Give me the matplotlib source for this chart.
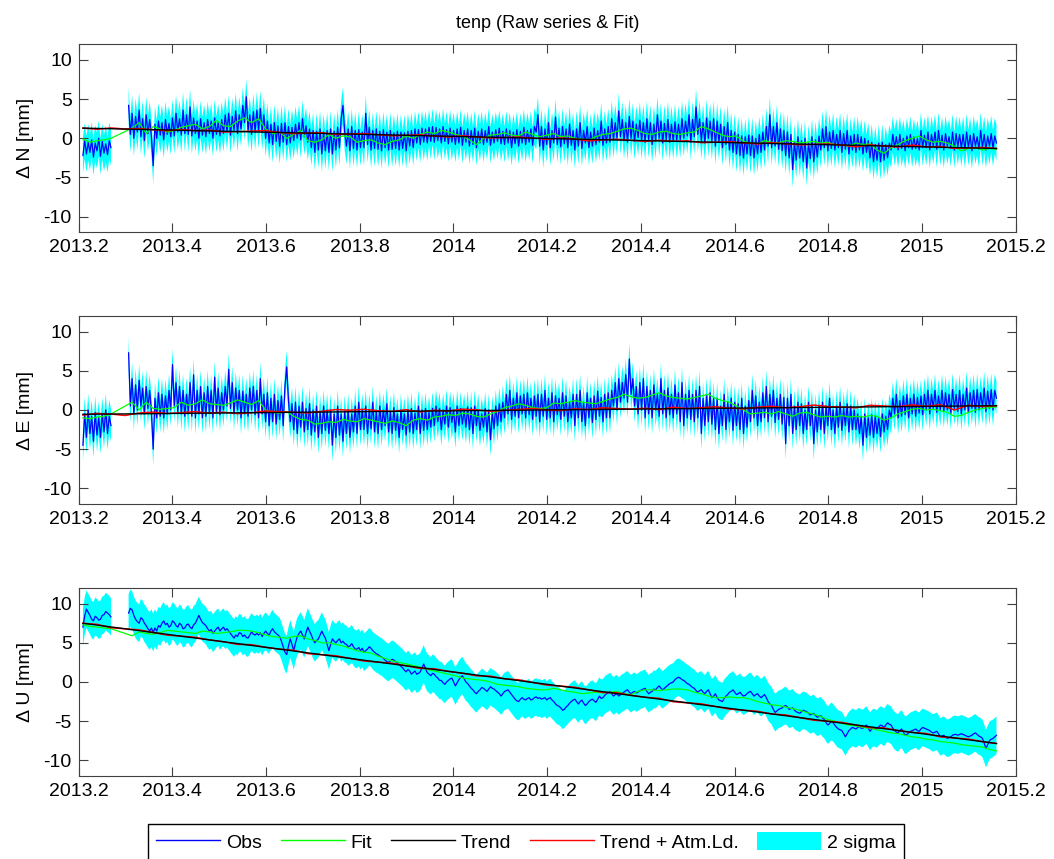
import numpy as np
import matplotlib
matplotlib.use("Agg")
import matplotlib.pyplot as plt
from matplotlib.lines import Line2D
from matplotlib.patches import Patch
from matplotlib.ticker import FormatStrFormatter

plt.rcParams['font.family'] = ['Liberation Sans', 'DejaVu Sans']
plt.rcParams['axes.unicode_minus'] = False

# ---------------- data ----------------
T0 = 2013.209          # first epoch
T_END = 2015.159       # last epoch
OBS_STEP = 0.00375     # years between observation samples
FIT_STEP = 0.015       # years between fit samples
ATM_STEP = 0.03        # years between atm-loading samples

title = "tenp (Raw series & Fit)"
ylabels = ["\u0394 N [mm]", "\u0394 E [mm]", "\u0394 U [mm]"]
xticks = [2013.2, 2013.4, 2013.6, 2013.8, 2014.0, 2014.2, 2014.4, 2014.6, 2014.8, 2015.0, 2015.2]
yticks = [-10, -5, 0, 5, 10]
legend_labels = ["Obs", "Fit", "Trend", "Trend + Atm.Ld.", "2 sigma"]

obs_N = [
    -2.2, -0.3, -2.0, -0.5, -1.8, -0.2, -2.4, -0.6, -1.6, 0.0, -2.3, -0.4, -1.9, -0.7, -2.1, -0.3, -1.2, None, None, None,
    None, None, None, None, None, None, 4.2, 0.5, 3.2, 0.0, 2.8, 0.8, 3.6, 0.2, 2.5, -0.3, 3.0, 0.6, 2.4, 0.2,
    -3.5, 1.8, 0.0, 2.2, 0.4, 2.0, -0.2, 2.4, 0.5, 1.9, 0.2, 2.6, 0.3, 3.2, 0.8, 2.5, 0.4, 3.6, 0.6, 3.0,
    0.5, 4.0, 0.3, 2.6, 0.6, 2.2, 0.0, 2.5, 0.4, 2.0, 0.2, 2.4, 0.6, 2.2, 0.0, 2.6, 0.5, 2.1, 0.3, 2.4,
    0.6, 3.0, 0.8, 3.2, 0.4, 2.8, 1.0, 3.5, 0.6, 3.0, 1.2, 4.2, 2.0, 5.3, 1.0, 3.0, 0.5, 3.4, 0.8, 3.6,
    1.0, 3.8, 0.8, 3.0, 0.0, 2.2, -0.6, 1.8, -0.8, 2.0, -0.4, 1.6, -1.0, 1.9, -0.5, 2.0, -0.8, 1.5, -0.6, 1.4,
    -0.3, 1.8, 0.0, 2.0, -0.2, 2.5, 0.2, 1.6, -0.5, 1.2, -1.2, 1.0, -1.8, 0.9, -1.5, 1.2, -2.0, 0.8, -1.6, 1.0,
    -1.8, 1.2, -2.0, 0.9, -1.5, 1.4, -1.2, 2.5, 4.2, 0.8, -1.0, 1.2, -1.6, 1.5, -1.3, 1.0, -1.5, 1.1, -1.2, 0.8,
    -1.2, 3.2, -0.8, 1.4, -1.5, 1.0, -1.3, 1.2, -1.4, 0.9, -1.6, 1.1, -1.2, 0.8, -1.5, 1.0, -1.4, 0.7, -1.3, 0.9,
    -1.5, 0.8, -1.3, 0.7, -1.6, 0.9, -1.0, 1.0, -1.2, 1.2, -0.6, 1.1, -0.8, 1.3, -0.5, 1.2, -0.6, 1.4, -0.4, 1.5,
    -0.5, 1.4, -0.3, 1.2, -0.6, 1.5, -0.4, 1.1, -0.7, 1.3, -0.5, 1.0, -0.8, 1.2, -0.6, 1.4, -0.9, 1.0, -0.5, 1.2,
    -1.0, 1.0, -0.8, 1.3, -1.2, 0.9, -0.6, 1.2, -0.8, 1.0, -0.5, 1.5, -0.9, 0.8, -0.6, 1.1, -0.4, 1.3, -0.7, 0.9,
    -0.8, 1.2, -0.6, 1.0, -1.2, 0.8, -0.7, 1.1, -1.0, 0.9, -0.6, 1.4, -0.8, 1.0, -0.5, 1.2, -0.9, 1.5, 0.8, 3.0,
    -1.0, 1.5, -1.5, 1.2, -0.8, 2.0, -1.2, 1.0, -0.6, 2.7, -0.8, 1.3, -1.1, 1.5, -0.7, 1.2, -1.2, 1.8, -0.9, 1.0,
    -1.5, 1.2, -1.0, 2.0, -1.3, 1.0, -0.6, 1.5, -1.2, 0.8, -1.0, 1.3, -0.8, 1.0, -0.5, 2.2, -0.9, 1.2, -0.6, 1.5,
    -0.5, 2.5, -0.2, 2.0, 0.0, 3.5, 0.2, 2.4, -0.3, 2.0, -0.5, 2.8, 0.0, 2.2, -0.4, 1.8, 0.1, 2.3, -0.3, 2.0,
    -0.5, 2.5, -0.2, 2.0, -0.8, 1.8, -0.3, 3.0, 0.0, 2.2, -0.6, 1.9, -0.2, 2.4, -0.5, 1.8, -0.4, 2.1, -0.3, 1.8,
    -0.2, 2.5, 0.0, 2.2, 0.3, 3.0, -0.5, 2.4, 0.2, 4.0, 0.5, 2.5, -0.3, 2.0, -0.6, 2.6, 0.0, 2.2, -0.4, 2.5,
    -1.0, 2.2, -0.5, 1.8, -1.2, 1.5, -0.8, 2.0, -1.5, 1.0, -1.8, 0.8, -2.0, 0.5, -2.2, 0.3, -2.5, 0.2, -2.0, 0.4,
    -2.2, 0.3, -2.5, 0.0, -2.0, 0.5, -1.8, 0.8, -1.5, 1.5, -1.0, 3.0, -1.2, 1.5, -1.0, 2.0, -1.4, 1.2, -1.6, 1.0,
    -2.2, 0.8, -2.5, 0.5, -4.0, -0.5, -2.8, 0.2, -2.5, -0.3, -3.0, 0.0, -3.8, -0.6, -2.6, 0.2, -3.0, -0.2, -2.4, 0.3,
    -1.5, 1.2, -1.2, 1.5, -1.6, 0.8, -1.3, 1.0, -1.5, 0.5, -1.2, 1.0, -1.8, 0.6, -1.4, 1.0, -2.0, 0.3, -1.5, 0.5,
    -1.8, 0.5, -1.5, 0.2, -2.0, 0.0, -1.8, -0.3, -2.5, -0.5, -3.0, -0.8, -2.8, -0.6, -3.0, -0.5, -2.8, -0.8, -2.5, -0.6,
    -1.5, 0.5, -1.2, 0.2, -1.5, 0.5, -1.3, 0.0, -1.6, 0.3, -1.2, 0.5, -1.4, 0.2, -1.3, 0.0, -1.5, 1.0, -1.2, 0.4,
    -1.2, 0.8, -1.5, 0.5, -1.0, 0.8, -1.4, 1.0, -1.2, 0.4, -1.5, 0.6, -1.0, 0.2, -1.3, 0.8, -1.5, 0.6, -1.1, 0.5,
    -1.3, 0.5, -1.5, 0.8, -1.2, 0.4, -1.6, 0.6, -1.0, 0.2, -1.4, 1.0, -1.2, 0.5, -1.5, 0.3, -1.0, 0.6, -1.3, 0.3,
    -0.6]

obs_E = [
    -4.5, -0.5, -3.5, 0.0, -3.0, -0.8, -4.0, -0.3, -3.2, -1.0, -3.5, -0.5, -2.8, 0.0, -3.0, -0.8, -2.0, None, None, None,
    None, None, None, None, None, None, 7.3, 0.5, 4.0, -0.5, 3.2, 0.0, 3.8, 0.5, 2.8, -0.5, 3.0, 0.2, 2.5, -0.2,
    -5.0, 1.5, -1.0, 2.2, -0.8, 2.0, -1.0, 1.8, -0.5, 2.5, 0.0, 5.8, 0.5, 3.5, -0.2, 3.0, -0.5, 2.5, -0.8, 2.0,
    -0.5, 3.5, -0.8, 4.5, -1.0, 2.5, -0.5, 3.0, -1.0, 2.2, -0.8, 3.0, -0.4, 2.5, -1.0, 4.2, -0.3, 2.8, -0.6, 2.2,
    0.0, 3.0, 0.5, 5.2, 0.2, 3.5, -0.5, 2.8, 0.0, 2.5, -1.0, 2.4, -0.5, 2.0, -0.8, 2.8, 0.0, 3.0, -0.6, 2.5,
    -1.0, 4.0, -0.5, 2.0, -1.5, 2.2, -2.0, 1.5, -1.5, 2.0, -1.8, 1.2, -1.2, 1.8, -2.0, 3.0, 5.5, 1.2, -1.5, 0.8,
    -2.5, 1.0, -3.0, 0.5, -2.2, 1.0, -2.8, 0.2, -2.5, 0.8, -3.2, 0.0, -2.8, 0.5, -3.5, -0.2, -3.0, 0.5, -2.6, 0.0,
    -3.0, 0.0, -4.5, -0.5, -3.5, 0.5, -3.2, -0.5, -4.0, -0.2, -3.0, 0.0, -3.5, -0.5, -2.8, 0.5, -3.0, 1.0, -2.5, 0.0,
    -2.5, 0.5, -3.0, 0.0, -2.4, 1.0, -2.8, -0.2, -3.0, 0.5, -2.5, 0.0, -2.0, 0.8, -2.8, -0.2, -3.0, 0.3, -2.6, -0.5,
    -3.5, 0.0, -2.5, -0.5, -3.2, 0.0, -2.8, 0.2, -3.0, -0.4, -2.5, 0.5, -3.0, 0.0, -2.6, 0.2, -2.5, -0.3, -2.2, 0.2,
    -2.0, 0.5, -1.5, 0.2, -2.5, 0.0, -1.8, 0.5, -2.2, 0.3, -1.6, 0.0, -2.8, 0.5, -2.0, 0.2, -1.8, 0.0, -2.2, 0.4,
    -2.5, 0.3, -3.0, 0.5, -2.0, 0.0, -2.6, -0.5, -2.2, 0.2, -2.8, 0.0, -3.8, -0.3, -2.4, 0.5, -2.0, 0.8, -1.5, 1.0,
    -1.0, 2.0, -0.5, 2.5, -1.2, 1.5, -0.8, 2.2, -1.0, 1.8, -0.5, 2.0, -1.0, 2.2, -0.6, 1.5, -1.2, 1.8, -0.8, 2.0,
    -1.5, 2.0, -0.8, 2.5, -1.2, 1.5, -1.0, 2.2, -1.5, 1.8, -0.6, 1.5, -1.2, 2.2, -0.8, 1.8, -1.5, 1.0, -1.0, 2.0,
    -2.0, 2.0, -1.0, 2.5, -1.5, 1.0, -2.0, 2.2, -1.0, 1.5, -1.6, 1.8, -1.2, 2.4, -0.8, 1.6, -1.5, 2.0, -1.0, 2.2,
    -1.0, 2.5, 0.5, 3.5, 0.0, 4.0, 1.0, 3.5, 1.5, 4.5, 1.0, 6.5, 2.0, 4.0, 0.5, 3.0, -0.5, 3.5, 0.0, 4.0,
    -1.0, 3.0, -0.5, 2.5, -1.0, 3.2, 0.0, 2.0, -0.8, 4.0, -0.5, 2.5, -1.0, 2.8, -0.6, 2.0, -1.0, 3.2, -0.5, 2.2,
    -1.5, 3.5, -2.0, 2.0, -1.0, 2.5, -1.2, 2.0, -1.5, 2.5, -1.0, 3.0, -3.0, 1.5, -2.0, 2.0, -1.5, 2.2, -1.8, 1.5,
    -2.5, 1.5, -3.0, 0.5, -2.0, 2.0, -2.5, 1.0, -1.5, 1.5, -2.6, 1.0, -2.0, 0.8, -2.5, 1.5, -3.0, 0.5, -2.2, 1.2,
    -1.5, 2.5, -1.0, 1.8, -2.0, 1.0, -1.5, 2.2, -1.0, 3.0, -1.5, 2.0, -0.8, 2.5, -1.6, 1.5, -1.2, 2.0, -1.8, 1.6,
    -4.3, 1.5, -2.0, 2.0, -3.0, 0.5, -2.5, 1.0, -2.0, 0.8, -3.0, 0.0, -2.5, 1.0, -2.0, 0.5, -4.3, 0.0, -2.8, 0.5,
    -2.5, 1.0, -3.0, 0.5, -2.0, 1.5, -2.5, 0.0, -3.0, 0.5, -2.2, 1.0, -2.6, 0.2, -2.0, 0.8, -2.8, 0.5, -2.5, 0.0,
    -2.5, -0.5, -3.0, -0.8, -4.5, -0.5, -3.5, -1.0, -3.2, -0.6, -3.5, -0.8, -3.0, -1.0, -3.4, -0.5, -2.8, -0.8, -2.5, 0.0,
    -1.0, 1.5, -0.5, 2.0, -1.0, 1.2, -0.8, 1.8, -0.6, 2.0, -1.0, 1.5, -0.5, 2.0, -0.8, 1.6, -0.4, 1.8, -0.6, 2.0,
    0.0, 2.5, -0.5, 2.0, 0.2, 2.5, -0.3, 1.8, 0.0, 2.5, -0.2, 2.2, 0.0, 2.0, -0.4, 2.6, 0.2, 2.0, -0.2, 2.5,
    -0.5, 2.0, 0.0, 2.8, -0.3, 2.2, 0.2, 2.5, -0.3, 2.6, 0.0, 2.2, 0.3, 2.8, -0.2, 2.4, 0.2, 2.6, 0.0, 2.5,
    1.5]

obs_U = [
    7.0, 8.4, 9.3, 8.9, 8.5, 8.0, 7.8, 8.4, 8.2, 7.9, 8.0, 8.5, 8.6, 9.0, 8.8, 8.6, 8.3, None, None, None,
    None, None, None, None, None, None, 8.8, 9.4, 9.2, 8.5, 8.0, 7.7, 7.5, 8.2, 8.0, 7.5, 7.2, 6.8, 6.5, 6.9,
    6.3, 6.9, 6.5, 7.2, 7.0, 7.5, 7.8, 7.3, 7.5, 7.0, 7.2, 7.8, 7.6, 7.2, 7.0, 7.5, 7.3, 6.8, 6.9, 7.3,
    7.4, 7.0, 6.8, 7.3, 7.5, 8.0, 8.5, 8.0, 7.6, 7.4, 7.2, 6.8, 6.5, 6.7, 6.2, 6.5, 6.8, 7.0, 6.5, 6.8,
    7.0, 6.6, 6.8, 6.5, 6.2, 5.9, 5.6, 6.0, 5.8, 6.3, 6.2, 5.8, 6.0, 5.7, 5.6, 6.0, 6.4, 6.1, 6.0, 6.2,
    6.0, 6.3, 5.8, 6.2, 6.5, 6.2, 6.0, 6.5, 6.8, 6.4, 6.2, 6.0, 5.8, 5.2, 4.5, 3.8, 3.5, 4.6, 5.5, 4.8,
    4.0, 5.0, 5.8, 6.2, 6.5, 6.0, 5.5, 6.3, 7.0, 6.5, 6.0, 5.4, 5.0, 5.3, 5.5, 6.0, 6.5, 6.0, 5.6, 4.8,
    4.0, 4.8, 5.5, 5.2, 5.0, 5.3, 5.5, 5.0, 5.2, 4.9, 4.8, 4.5, 4.6, 4.9, 4.5, 4.2, 4.2, 4.4, 4.0, 4.3,
    3.8, 4.0, 4.2, 4.5, 4.3, 4.0, 3.8, 3.6, 3.5, 3.3, 3.2, 3.0, 2.8, 2.6, 2.5, 2.7, 2.9, 2.8, 2.6, 2.4,
    2.2, 2.0, 1.8, 1.5, 1.3, 1.6, 1.4, 1.0, 1.2, 1.4, 1.0, 1.1, 1.3, 1.8, 2.3, 1.7, 1.2, 1.0, 0.8, 1.1,
    1.0, 0.7, 0.5, 0.2, 0.2, -0.1, -0.3, 0.0, 0.2, 0.4, 0.5, 0.0, -0.5, -0.1, 0.3, 0.6, 0.8, 0.4, 0.0, -0.2,
    -0.5, -0.8, -1.0, -1.3, -1.5, -1.2, -1.0, -0.7, -0.8, -1.0, -1.2, -0.9, -0.6, -0.8, -0.9, -1.1, -1.3, -1.5, -1.8, -1.5,
    -1.2, -1.1, -1.0, -1.3, -1.6, -1.9, -2.2, -2.4, -2.5, -2.2, -2.0, -2.2, -2.3, -2.1, -2.0, -2.3, -2.2, -2.0, -1.9, -2.1,
    -2.0, -2.2, -2.1, -2.0, -2.3, -2.1, -2.0, -2.3, -2.5, -2.8, -3.0, -3.1, -3.3, -3.6, -3.5, -3.2, -3.0, -2.7, -2.5, -2.3,
    -2.2, -2.5, -2.8, -2.5, -2.3, -2.7, -3.0, -2.8, -2.5, -2.3, -2.2, -2.4, -2.6, -2.2, -1.8, -2.1, -2.0, -1.7, -1.5, -1.4,
    -1.2, -1.5, -1.8, -1.6, -1.5, -1.8, -1.6, -1.4, -1.3, -1.1, -1.0, -1.3, -1.5, -1.3, -1.2, -1.4, -1.3, -1.1, -1.0, -0.9,
    -0.8, -1.2, -1.5, -1.3, -1.2, -0.9, -1.0, -0.7, -0.5, -0.8, -1.0, -0.8, -0.6, -0.4, -0.2, -0.1, 0.0, 0.3, 0.5, 0.6,
    0.5, 0.3, 0.2, 0.0, -0.2, -0.3, -0.5, -0.7, -0.8, -1.1, -1.3, -1.1, -1.0, -1.3, -1.5, -1.2, -1.0, -1.5, -2.0, -1.8,
    -1.5, -2.0, -2.3, -2.4, -2.5, -2.1, -1.8, -1.6, -1.3, -1.2, -1.0, -1.3, -1.6, -1.5, -1.3, -1.6, -1.8, -1.7, -1.5, -1.3,
    -1.2, -1.5, -1.8, -1.6, -1.5, -1.8, -2.0, -1.8, -1.6, -2.0, -2.5, -2.8, -3.0, -3.5, -3.9, -3.7, -3.5, -3.4, -3.3, -3.1,
    -3.0, -3.2, -3.5, -3.4, -3.3, -3.6, -3.8, -3.9, -4.0, -3.8, -3.6, -3.7, -3.8, -4.0, -4.2, -4.1, -4.0, -4.3, -4.5, -4.4,
    -4.3, -4.6, -4.8, -5.2, -5.5, -5.3, -5.0, -5.2, -5.5, -5.8, -6.0, -6.1, -6.2, -6.6, -7.0, -6.6, -6.2, -6.0, -5.8, -5.9,
    -6.0, -5.8, -5.7, -5.9, -5.9, -5.7, -5.5, -5.9, -6.3, -6.0, -5.8, -5.9, -6.0, -5.7, -5.5, -5.6, -5.8, -5.5, -5.2, -5.4,
    -5.5, -5.9, -6.2, -6.4, -6.5, -6.2, -6.0, -6.4, -6.8, -6.7, -6.5, -6.3, -6.2, -6.1, -6.0, -6.2, -6.3, -6.0, -5.8, -5.9,
    -6.0, -6.1, -6.2, -6.4, -6.5, -6.4, -6.3, -6.6, -7.0, -6.9, -6.8, -7.0, -7.2, -7.1, -7.0, -6.8, -6.7, -6.7, -6.8, -6.7,
    -6.6, -6.7, -6.8, -6.9, -7.0, -6.9, -6.8, -6.6, -6.5, -6.7, -6.9, -7.0, -7.2, -7.8, -8.5, -8.0, -7.5, -7.3, -7.2, -7.0,
    -6.8]

fit_N = [
    -0.1, -0.5, -0.3, -0.2, 0.0, None, None, 1.3, 2.0, 0.6,
    1.5, 1.2, 0.8, 1.0, 1.4, 1.6, 1.8, 1.2, 1.5, 2.3,
    1.6, 1.5, 2.2, 2.6, 2.0, 2.5, 1.2, 0.6, 0.8, 0.0,
    0.5, 1.0, -0.3, -0.5, -0.2, 0.5, 0.0, 0.3, 0.2, -0.5,
    -0.3, -0.2, -0.6, -0.8, -0.4, -0.2, 0.3, 0.0, 0.5, 0.8,
    0.6, 1.0, 0.8, 0.5, 0.3, -0.2, -0.8, 0.0, 0.4, 0.5,
    0.7, 0.4, 0.3, 0.8, 0.5, 0.2, 0.4, 0.6, 0.2, 0.3,
    0.0, -0.1, -0.2, 0.2, 0.5, 0.6, 0.9, 1.2, 1.3, 1.0,
    0.6, 0.5, 0.8, 0.9, 0.6, 0.5, 0.7, 0.8, 1.5, 1.2,
    0.8, 0.4, 0.2, 0.3, -0.4, -0.6, -0.7, -0.3, -0.5, -0.6,
    -0.3, -0.4, -0.6, -0.5, -0.4, -0.6, -0.5, -0.8, -0.9, -1.0,
    -0.6, -0.8, -0.7, -1.5, -1.9, -1.2, -0.8, -0.3, 0.0, 0.3,
    -0.2, -0.5, -0.4, -0.6, -1.0, -1.6, -1.3, -1.2, -1.5, -1.3,
    -1.4]

fit_E = [
    -1.0, -1.1, -0.9, -0.8, -0.5, None, None, 1.0, 0.0, 1.0,
    0.2, 0.1, 0.2, 0.3, 1.0, 0.6, 0.8, 1.3, 0.8, 0.7,
    0.6, 0.9, 1.3, 1.0, 0.7, 1.2, 0.0, -0.3, -0.4, -0.2,
    -0.8, -1.2, -1.3, -1.8, -1.7, -1.5, -1.6, -1.2, -1.4, -1.5,
    -1.1, -1.3, -1.5, -1.7, -1.4, -1.6, -2.0, -1.3, -1.1, -1.3,
    -0.9, -0.8, -0.6, -0.7, -0.4, -0.5, -0.8, -0.9, -0.5, -0.2,
    0.3, 0.5, 0.8, 0.6, 0.3, 0.2, 0.3, 0.9, 0.8, 1.0,
    1.2, 1.0, 0.9, 0.8, 1.1, 1.4, 1.6, 2.0, 1.7, 1.5,
    1.6, 1.9, 2.2, 1.8, 1.6, 1.5, 1.4, 1.6, 1.8, 2.0,
    1.5, 1.2, 1.0, 0.5, 0.0, -0.5, -0.4, -0.3, -0.5, -0.2,
    -0.5, -0.8, -0.4, -0.3, -0.6, -0.9, -0.8, -0.9, -0.7, -0.9,
    -0.8, -0.9, -0.7, -0.8, -1.3, -1.0, -0.5, -0.2, 0.1, 0.2,
    0.0, 0.1, -0.1, -0.3, -0.8, -0.7, -0.3, 0.0, 0.2, 0.3,
    0.4]

fit_U = [
    7.3, 7.1, 7.0, 6.9, 6.8, None, None, 5.9, 6.4, 6.2,
    6.1, 6.3, 6.6, 6.5, 6.4, 6.3, 6.2, 6.5, 6.4, 6.2,
    6.3, 6.4, 6.6, 6.6, 6.5, 6.3, 6.0, 5.8, 5.7, 5.6,
    5.8, 5.9, 5.5, 5.3, 5.0, 5.0, 4.8, 4.6, 4.3, 4.0,
    3.8, 3.7, 3.3, 3.0, 2.7, 2.5, 2.3, 2.1, 1.9, 1.6,
    1.4, 1.2, 1.0, 0.8, 0.5, 0.4, 0.3, 0.2, 0.0, -0.3,
    -0.4, -0.5, -0.6, -0.8, -0.9, -1.0, -1.0, -0.8, -1.0, -1.2,
    -1.3, -1.5, -1.4, -1.3, -1.4, -1.3, -1.2, -1.5, -1.6, -1.2,
    -1.0, -1.0, -1.1, -1.0, -0.9, -0.9, -1.0, -1.3, -1.5, -1.8,
    -2.0, -2.0, -1.9, -2.0, -2.0, -2.2, -2.5, -2.7, -2.9, -3.0,
    -3.2, -3.4, -3.6, -3.9, -4.1, -4.4, -4.8, -5.0, -5.3, -5.5,
    -5.6, -5.8, -5.9, -6.1, -6.3, -6.5, -6.6, -6.8, -7.0, -7.1,
    -7.3, -7.4, -7.6, -7.7, -7.8, -8.0, -8.1, -8.2, -8.3, -8.6,
    -8.8]

# linear trend: value at T0 and at T_END
trend_N = [1.3, -1.3]
trend_E = [-0.55, 0.55]
trend_U = [7.5, -7.85]

# atmospheric-loading deviation from the trend (red minus black)
atm_N = [0.0, -0.1, 0.1, 0.0, 0.1, 0.0, -0.1, 0.1, 0.0, 0.1,
         -0.1, 0.0, 0.1, 0.2, 0.0, -0.1, 0.0, 0.1, -0.1, 0.0,
         0.1, 0.0, -0.1, 0.0, 0.1, 0.0, -0.1, 0.1, 0.0, -0.1,
         0.0, 0.1, 0.0, -0.1, 0.1, 0.0, -0.2, 0.0, 0.1, 0.0,
         -0.1, 0.1, 0.0, 0.1, -0.1, 0.0, 0.1, 0.0, -0.1, 0.1,
         0.0, -0.1, 0.0, 0.1, 0.0, -0.2, 0.1, 0.0, -0.1, 0.2,
         0.0, 0.1, -0.1, 0.0, 0.1, 0.0]
atm_E = [-0.1, 0.1, 0.0, -0.2, 0.1, 0.2, 0.0, 0.1, 0.2, 0.0,
         0.1, -0.1, 0.0, 0.2, 0.1, 0.0, -0.1, 0.1, 0.3, 0.2,
         0.3, 0.1, 0.0, 0.2, -0.1, 0.1, 0.0, 0.2, 0.1, -0.1,
         0.0, 0.1, 0.2, 0.0, -0.1, 0.1, 0.0, 0.2, 0.1, 0.0,
         0.1, -0.1, 0.2, 0.0, 0.1, 0.2, 0.0, -0.1, 0.1, 0.2,
         0.0, 0.1, 0.3, 0.1, 0.0, -0.1, 0.2, 0.1, 0.0, 0.2,
         0.0, 0.2, -0.5, 0.1, -0.1, 0.0]
atm_U = [0.0, 0.1, -0.1, 0.0, 0.1, 0.0, -0.1, 0.0, 0.1, 0.0,
         0.0, -0.1, 0.1, 0.0, 0.0, 0.1, -0.1, 0.0, 0.1, 0.0,
         -0.1, 0.0, 0.1, 0.0, -0.1, 0.1, 0.0, 0.0, -0.1, 0.1,
         0.0, 0.1, 0.0, -0.1, 0.0, 0.1, 0.0, -0.1, 0.1, 0.0,
         0.0, 0.1, -0.1, 0.0, 0.1, 0.0, -0.1, 0.0, 0.1, 0.0,
         0.1, 0.0, -0.1, 0.0, 0.1, 0.0, -0.1, 0.1, 0.0, 0.0,
         0.1, -0.1, 0.0, 0.1, 0.0, 0.0]

# half-width of the 2-sigma band per component [mm]
sigma2 = [2.3, 2.1, 2.4]

# ---------------- colours ----------------
C_OBS = '#0000ff'
C_FIT = '#00ff00'
C_TREND = '#000000'
C_ATM = '#ff0000'
C_SIG = '#00ffff'


def series(vals, step):
    v = np.array([np.nan if x is None else x for x in vals], dtype=float)
    t = T0 + step * np.arange(len(v))
    return t, v


W, H = 1054, 859
fig = plt.figure(figsize=(W / 100, H / 100), dpi=100)

ax_left, ax_width = 78.7, 937.0
panel_px = [(44.3, 232.3), (316.0, 504.0), (588.0, 776.0)]

panels = [(obs_N, fit_N, trend_N, atm_N),
          (obs_E, fit_E, trend_E, atm_E),
          (obs_U, fit_U, trend_U, atm_U)]

axes = []
for k, ((top, bot), (obs, fit, trend, atm)) in enumerate(zip(panel_px, panels)):
    ax = fig.add_axes([ax_left / W, (H - bot) / H, ax_width / W, (bot - top) / H])
    axes.append(ax)

    t, o = series(obs, OBS_STEP)
    ax.fill_between(t, o - sigma2[k], o + sigma2[k], color=C_SIG, lw=0, zorder=1)
    ax.plot(t, o, color=C_OBS, lw=0.9, zorder=2)

    tf, f = series(fit, FIT_STEP)
    m = np.isfinite(f)
    ax.plot(tf[m], f[m], color=C_FIT, lw=0.9, zorder=3)

    ta, a = series(atm, ATM_STEP)
    base = np.interp(ta, [T0, T_END], trend)
    ax.plot(ta, base + a, color=C_ATM, lw=1.1, zorder=4)
    ax.plot([T0, T_END], trend, color=C_TREND, lw=1.0, zorder=5)

    ax.set_xlim(2013.2, 2015.2)
    ax.set_ylim(-12, 12)
    ax.set_xticks(xticks)
    ax.set_yticks(yticks)
    ax.xaxis.set_major_formatter(FormatStrFormatter('%g'))
    ax.tick_params(direction='in', length=6.5, width=0.8, top=True, right=True,
                   labelsize=14, pad=5, color='#404040', labelcolor='black')
    for sp in ax.spines.values():
        sp.set_color('#404040')
        sp.set_linewidth(0.8)
    ax.set_ylabel(ylabels[k], fontsize=14)
    ax.yaxis.set_label_coords((34 - ax_left) / ax_width, 0.5)

axes[0].set_title(title, fontsize=13, pad=12)

handles = [Line2D([], [], color=C_OBS, lw=1.0),
           Line2D([], [], color=C_FIT, lw=1.0),
           Line2D([], [], color=C_TREND, lw=1.0),
           Line2D([], [], color=C_ATM, lw=1.0),
           Patch(facecolor=C_SIG, edgecolor='none')]
leg = fig.legend(handles, legend_labels, loc='upper center', ncol=5,
                 bbox_to_anchor=(526 / W, (H - 824) / H), fontsize=14,
                 frameon=True, fancybox=False, shadow=False, framealpha=1,
                 edgecolor='black', handlelength=3.3, handleheight=1.1,
                 handletextpad=0.3, columnspacing=0.95, borderpad=0.4,
                 borderaxespad=0)
leg.get_frame().set_linewidth(1.0)

fig.savefig('out.png', dpi=100)
